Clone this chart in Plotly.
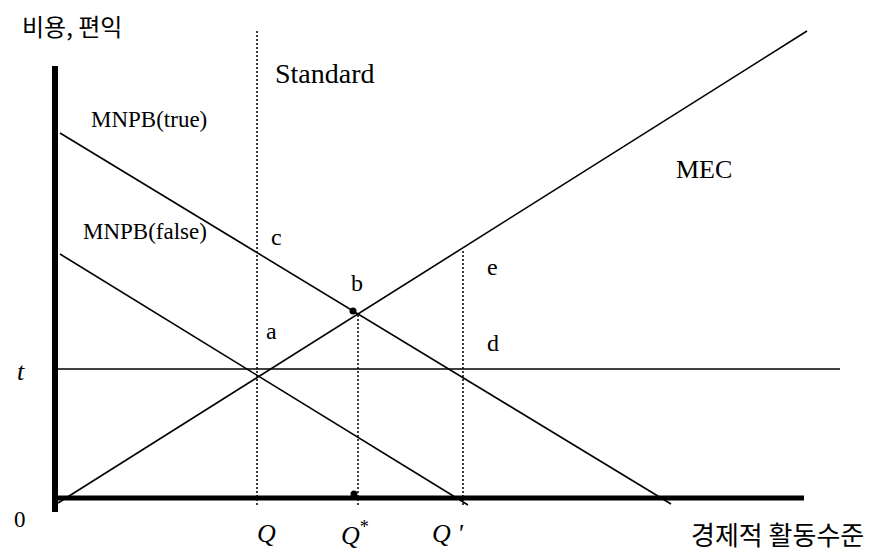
import plotly.graph_objects as go

# ---- data (diagram units: 1 unit on each axis) ----
mec_x = [0.3, 75.2]
mec_y = [-0.5, 46.7]
mnpb_true_x = [0.5, 61.6]
mnpb_true_y = [36.5, -0.6]
mnpb_false_x = [0.5, 41.3]
mnpb_false_y = [24.4, -0.7]
t_level = 12.9
t_x = [0.3, 78.5]
standard_q = 20.2
standard_top = 46.9
q_star = 30.3
q_star_top = 18.5
q_prime = 40.8
q_prime_top = 24.8
guide_bottom = -0.7
axis_x_end = 74.9
axis_y_top = 43.2
axis_y_bottom = -1.4
point_x = [29.8, 29.9]
point_y = [18.7, 0.4]

SERIF = "Liberation Serif"
KR = "Noto Sans CJK KR"

fig = go.Figure()

def line(x, y, width=1.6, dash=None):
    fig.add_trace(go.Scatter(
        x=x, y=y, mode="lines",
        line=dict(color="black", width=width, dash=dash),
        hoverinfo="skip", showlegend=False))

# axes
line([0, 0], [axis_y_bottom, axis_y_top], width=6)
line([-0.3, axis_x_end], [0, 0], width=5)

# curves
line(mec_x, mec_y)
line(mnpb_true_x, mnpb_true_y)
line(mnpb_false_x, mnpb_false_y)
line(t_x, [t_level, t_level], width=1.4)

# dotted guides
line([standard_q, standard_q], [guide_bottom, standard_top], width=1.5, dash="2px,2px")
line([q_star, q_star], [guide_bottom, q_star_top], width=1.5, dash="2px,2px")
line([q_prime, q_prime], [guide_bottom, q_prime_top], width=1.5, dash="2px,2px")

# points
fig.add_trace(go.Scatter(
    x=point_x, y=point_y, mode="markers",
    marker=dict(color="black", size=7),
    hoverinfo="skip", showlegend=False))

def label(text, x, y, size=24, family=SERIF):
    fig.add_annotation(x=x, y=y, text=text, showarrow=False,
                       xanchor="center", yanchor="middle",
                       font=dict(family=family, size=size, color="black"))

label("비용, 편익", 1.7, 47.3, size=24, family=KR)
label("Standard", 26.95, 42.5, size=28)
label("MNPB(true)", 9.4, 37.9, size=23)
label("MNPB(false)", 9.0, 26.7, size=23)
label("MEC", 64.9, 32.9, size=26)
label("c", 22.1, 26.1)
label("b", 30.2, 21.5)
label("a", 21.6, 16.7)
label("e", 43.7, 23.1)
label("d", 43.8, 15.5)
label("<i>t</i>", -3.4, 12.7, size=26)
label("0", -3.5, -2.1, size=23)
label("<i>Q</i>", 21.1, -3.5, size=26)
label("<i>Q</i><sup>*</sup>", 30.0, -3.5, size=26)
label("<i>Q '</i>", 39.2, -3.5, size=26)
label("경제적 활동수준", 72.2, -3.5, size=26, family=KR)

# page body has an 8px margin: figure sized to the remaining window
fig.update_layout(
    width=870, height=545,
    margin=dict(l=0, r=0, t=0, b=0),
    paper_bgcolor="white", plot_bgcolor="white",
    xaxis=dict(range=[-4.7, 82.3], visible=False, fixedrange=True),
    yaxis=dict(range=[-5.5, 49.0], visible=False, fixedrange=True),
)

fig.write_html("out.html")
